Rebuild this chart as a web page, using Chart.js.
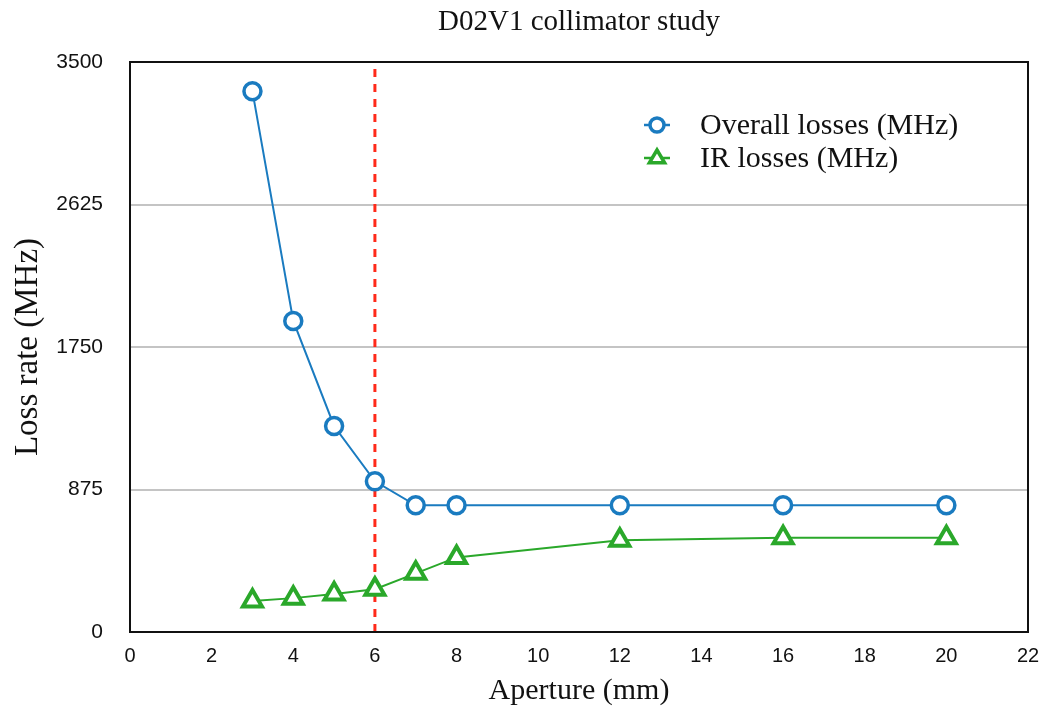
<!DOCTYPE html>
<html>
<head>
<meta charset="utf-8">
<script src="https://cdn.jsdelivr.net/npm/chart.js@4/dist/chart.umd.min.js"></script>
<style>
  html, body { margin: 0; padding: 0; background: #fff; }
  #box { width: 1043px; height: 713px; }
</style>
</head>
<body>
<div id="box"><canvas id="grafico"></canvas></div>
<script>
const abertura = [3, 4, 5, 6, 7, 8, 12, 16, 20];
const perdasTotais = [3320, 1910, 1265, 925, 778, 778, 778, 778, 778];
const perdasIR = [190, 208, 233, 263, 360, 458, 563, 578, 578];
const corteX = [6, 6];
const corteY = [0, 3500];
const ticksY = [0, 875, 1750, 2625, 3500];
const titulo = 'D02V1 collimator study';

const azul = '#1a7bc0';
const verde = '#2aa82a';
const vermelho = '#ff2a1a';

const pontos = (xs, ys) => xs.map((x, i) => ({ x: x, y: ys[i] }));

// titulo centrado sobre a area do grafico + moldura preta
const moldura = {
  id: 'moldura',
  afterDatasetsDraw(chart) {
    const { ctx, chartArea: a } = chart;
    ctx.save();
    ctx.strokeStyle = '#111';
    ctx.lineWidth = 2;
    ctx.strokeRect(a.left, a.top, a.right - a.left, a.bottom - a.top);
    ctx.fillStyle = '#111';
    ctx.font = '29px "Liberation Serif"';
    ctx.textAlign = 'center';
    ctx.textBaseline = 'middle';
    ctx.fillText(titulo, (a.left + a.right) / 2, 22);
    ctx.restore();
  }
};

// legenda desenhada dentro do grafico
const legenda = {
  id: 'legenda',
  afterDraw(chart) {
    const ctx = chart.ctx;
    const itens = chart.data.datasets.filter(d => d.label);
    ctx.save();
    itens.forEach((d, i) => {
      const x = 657, y = 125 + i * 33;
      ctx.strokeStyle = d.borderColor;
      ctx.lineWidth = 2.5;
      ctx.beginPath();
      ctx.moveTo(x - 13, y);
      ctx.lineTo(x + 13, y);
      ctx.stroke();
      ctx.fillStyle = '#fff';
      ctx.lineWidth = 3.5;
      ctx.beginPath();
      if (d.pointStyle === 'triangle') {
        const r = 8;
        ctx.moveTo(x, y - r);
        ctx.lineTo(x + r * 0.95, y + r * 0.6);
        ctx.lineTo(x - r * 0.95, y + r * 0.6);
        ctx.closePath();
      } else {
        ctx.arc(x, y, 7, 0, Math.PI * 2);
      }
      ctx.fill();
      ctx.stroke();
      ctx.fillStyle = '#111';
      ctx.font = '30px "Liberation Serif"';
      ctx.textBaseline = 'middle';
      ctx.fillText(d.label, x + 43, y + 1);
    });
    ctx.restore();
  }
};

const ctx = document.getElementById('grafico').getContext('2d');
const chart = new Chart(ctx, {
  type: 'line',
  data: {
    datasets: [
      {
        label: '',
        data: pontos(corteX, corteY),
        borderColor: vermelho,
        borderWidth: 3,
        borderDash: [8, 7],
        pointRadius: 0,
        order: 3
      },
      {
        label: 'Overall losses (MHz)',
        data: pontos(abertura, perdasTotais),
        borderColor: azul,
        borderWidth: 2,
        pointStyle: 'circle',
        pointRadius: 8.5,
        pointBorderWidth: 3.5,
        pointBackgroundColor: '#fff',
        order: 1
      },
      {
        label: 'IR losses (MHz)',
        data: pontos(abertura, perdasIR),
        borderColor: verde,
        borderWidth: 2,
        pointStyle: 'triangle',
        pointRadius: 11,
        pointBorderWidth: 4,
        pointBackgroundColor: '#fff',
        order: 2
      }
    ]
  },
  options: {
    responsive: true,
    maintainAspectRatio: false,
    animation: false,
    layout: { padding: { left: 0, right: 14, top: 62, bottom: 0 } },
    scales: {
      x: {
        type: 'linear',
        min: 0,
        max: 22,
        grid: { display: false, drawTicks: false },
        border: { display: false },
        ticks: {
          stepSize: 2,
          padding: 12,
          color: '#111',
          font: { family: '"Liberation Sans"', size: 20 }
        },
        title: {
          display: true,
          text: 'Aperture (mm)',
          color: '#111',
          font: { family: '"Liberation Serif"', size: 30 },
          padding: { top: 2, bottom: 4 }
        },
        afterFit: s => { s.height = 81; s.paddingLeft = 0; s.paddingRight = 0; }
      },
      y: {
        min: 0,
        max: 3500,
        afterBuildTicks: s => { s.ticks = ticksY.map(v => ({ value: v })); },
        grid: {
          drawTicks: false,
          lineWidth: 2,
          color: c => (c.tick && (c.tick.value === 0 || c.tick.value === 3500)) ? 'rgba(0,0,0,0)' : '#c4c4c4'
        },
        border: { display: false },
        ticks: {
          padding: 27,
          color: '#111',
          font: { family: '"Liberation Sans"', size: 21 },
          callback: v => String(v)
        },
        title: {
          display: true,
          text: 'Loss rate (MHz)',
          color: '#111',
          font: { family: '"Liberation Serif"', size: 33 },
          padding: { top: 9, bottom: 0 }
        },
        afterFit: s => { s.width = 130; }
      }
    },
    plugins: {
      legend: { display: false },
      tooltip: { enabled: false },
      title: { display: false }
    }
  },
  plugins: [moldura, legenda]
});
</script>
</body>
</html>
